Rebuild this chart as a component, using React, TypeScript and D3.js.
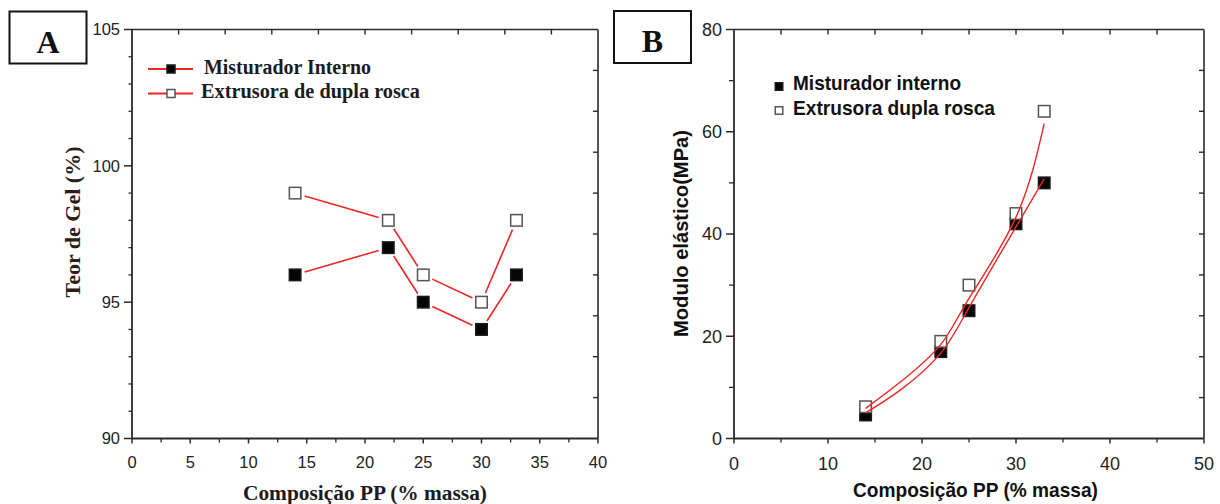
import React from "react";
import * as d3 from "d3";

// ---------- Data ----------
const compA = [14, 22, 25, 30, 33];
const gelMisturador = [96, 97, 95, 94, 96];
const gelExtrusora = [99, 98, 96, 95, 98];

const compB = [14, 22, 25, 30, 33];
const moduloMisturador = [4.6, 17, 25, 42, 50];
const moduloExtrusora = [6.2, 19, 30, 44, 64];

// fitted curves as drawn in the reference
const fitX = [14, 18, 22, 25, 30, 33];
const fitMisturador = [5.0, 9.9, 16.7, 25.6, 41.4, 50.8];
const fitExtrusora = [5.9, 11.5, 18.4, 27.4, 43.3, 61.6];

// tick labels
const xTicksA = [0, 5, 10, 15, 20, 25, 30, 35, 40];
const yTicksA = [90, 95, 100, 105];
const xTicksB = [0, 10, 20, 30, 40, 50];
const yTicksB = [0, 20, 40, 60, 80];

const legendA = ["Misturador Interno", "Extrusora de dupla rosca"];
const legendB = ["Misturador interno", "Extrusora dupla rosca"];
const titleXA = "Composição PP (% massa)";
const titleYA = "Teor de Gel (%)";
const titleXB = "Composição PP (% massa)";
const titleYB = "Modulo elástico(MPa)";

// ---------- Scales ----------
const xA = d3.scaleLinear().domain([0, 40]).range([132, 598]);
const yA = d3.scaleLinear().domain([90, 105]).range([438.5, 29.5]);
const xB = d3.scaleLinear().domain([0, 50]).range([734, 1204]);
const yB = d3.scaleLinear().domain([0, 80]).range([438.5, 29.5]);

const SANS = "'Liberation Sans', Arial, sans-serif";
const SERIF = "'Liberation Serif', 'Times New Roman', serif";
const AXIS = "#2a2a2a";
const RED = "#f02525";

type AxesProps = {
  x: d3.ScaleLinear<number, number>;
  y: d3.ScaleLinear<number, number>;
  xMajor: number[];
  xMinor: number[];
  yMajor: number[];
  yMinor: number[];
  top: number[];
  right: number[];
  fontSize: number;
  yMajorLen: number;
  yMinorLen: number;
  labelGapY: number;
  labelBaseX: number;
};

function Axes(p: AxesProps) {
  const [x0, x1] = p.x.range();
  const [y0, y1] = p.y.range(); // y0 bottom, y1 top
  return (
    <g>
      <line x1={x0} x2={x1} y1={y0} y2={y0} stroke={AXIS} strokeWidth={1.8} />
      <line x1={x0} x2={x1} y1={y1} y2={y1} stroke={AXIS} strokeWidth={1.6} />
      <line x1={x0} x2={x0} y1={y0} y2={y1} stroke={AXIS} strokeWidth={1.8} />
      <line x1={x1} x2={x1} y1={y0} y2={y1} stroke={AXIS} strokeWidth={1.6} />
      {p.xMajor.map((v) => (
        <line key={"xM" + v} x1={p.x(v)} x2={p.x(v)} y1={y0} y2={y0 + 5} stroke={AXIS} strokeWidth={1.5} />
      ))}
      {p.xMinor.map((v) => (
        <line key={"xm" + v} x1={p.x(v)} x2={p.x(v)} y1={y0} y2={y0 + 4} stroke={AXIS} strokeWidth={1.3} />
      ))}
      {p.yMajor.map((v) => (
        <line key={"yM" + v} x1={x0 - p.yMajorLen} x2={x0} y1={p.y(v)} y2={p.y(v)} stroke={AXIS} strokeWidth={1.5} />
      ))}
      {p.yMinor.map((v) => (
        <line key={"ym" + v} x1={x0 - p.yMinorLen} x2={x0} y1={p.y(v)} y2={p.y(v)} stroke={AXIS} strokeWidth={1.3} />
      ))}
      {p.top.map((v) => (
        <line key={"t" + v} x1={p.x(v)} x2={p.x(v)} y1={y1} y2={y1 + 5} stroke={AXIS} strokeWidth={1.4} />
      ))}
      {p.right.map((v) => (
        <line key={"r" + v} x1={x1 - 5} x2={x1} y1={p.y(v)} y2={p.y(v)} stroke={AXIS} strokeWidth={1.4} />
      ))}
      {p.xMajor.map((v) => (
        <text key={"xl" + v} x={p.x(v)} y={p.labelBaseX} textAnchor="middle" fontFamily={SANS} fontSize={p.fontSize} fill="#222">
          {v}
        </text>
      ))}
      {p.yMajor.map((v) => (
        <text key={"yl" + v} x={x0 - p.labelGapY} y={p.y(v)} dy="0.36em" textAnchor="end" fontFamily={SANS} fontSize={p.fontSize} fill="#222">
          {v}
        </text>
      ))}
    </g>
  );
}

function gappedSegments(xs: number[], ys: number[], sx: any, sy: any, gap: number) {
  const segs: { x1: number; y1: number; x2: number; y2: number }[] = [];
  for (let i = 0; i < xs.length - 1; i++) {
    const ax = sx(xs[i]), ay = sy(ys[i]), bx = sx(xs[i + 1]), by = sy(ys[i + 1]);
    const dx = bx - ax, dy = by - ay;
    const len = Math.hypot(dx, dy);
    const ux = dx / len, uy = dy / len;
    segs.push({ x1: ax + ux * gap, y1: ay + uy * gap, x2: bx - ux * gap, y2: by - uy * gap });
  }
  return segs;
}

function Square({ cx, cy, size, filled }: { cx: number; cy: number; size: number; filled: boolean }) {
  return (
    <rect
      x={cx - size / 2}
      y={cy - size / 2}
      width={size}
      height={size}
      fill={filled ? "#050505" : "#fff"}
      stroke={filled ? "#1a1a1a" : "#555"}
      strokeWidth={1.5}
    />
  );
}

function PanelA() {
  const segM = gappedSegments(compA, gelMisturador, xA, yA, 10);
  const segE = gappedSegments(compA, gelExtrusora, xA, yA, 10);
  const ms = 11.5;
  return (
    <g>
      <rect x={9.5} y={11.5} width={77} height={52} fill="#fff" stroke="#111" strokeWidth={2} />
      <text x={48} y={52.5} textAnchor="middle" fontFamily={SERIF} fontWeight="bold" fontSize={32} fill="#111">
        A
      </text>
      <Axes
        x={xA}
        y={yA}
        xMajor={xTicksA}
        xMinor={d3.range(2.5, 40, 5)}
        yMajor={yTicksA}
        yMinor={d3.range(91, 105, 1).filter((v) => v % 5 !== 0)}
        top={d3.range(4, 40, 4)}
        right={d3.range(91.5, 104, 1.5)}
        fontSize={16.5}
        yMajorLen={8}
        yMinorLen={3.5}
        labelGapY={12}
        labelBaseX={468}
      />
      {segM.map((s, i) => (
        <line key={"sm" + i} {...s} stroke={RED} strokeWidth={1.6} />
      ))}
      {segE.map((s, i) => (
        <line key={"se" + i} {...s} stroke={RED} strokeWidth={1.6} />
      ))}
      {compA.map((c, i) => (
        <Square key={"am" + i} cx={xA(c)} cy={yA(gelMisturador[i])} size={ms} filled={true} />
      ))}
      {compA.map((c, i) => (
        <Square key={"ae" + i} cx={xA(c)} cy={yA(gelExtrusora[i])} size={ms} filled={false} />
      ))}
      <line x1={148} x2={193} y1={69} y2={69} stroke={RED} strokeWidth={1.8} />
      <Square cx={171} cy={69} size={8} filled={true} />
      <text x={204} y={74} fontFamily={SERIF} fontWeight="bold" fontSize={20} fill="#1c1a22" textLength={167} lengthAdjust="spacingAndGlyphs">
        {legendA[0]}
      </text>
      <line x1={148} x2={193} y1={93.5} y2={93.5} stroke={RED} strokeWidth={1.8} />
      <Square cx={171} cy={93.5} size={8} filled={false} />
      <text x={201} y={98} fontFamily={SERIF} fontWeight="bold" fontSize={20} fill="#1c1a22" textLength={219} lengthAdjust="spacingAndGlyphs">
        {legendA[1]}
      </text>
      <text x={365} y={500} textAnchor="middle" fontFamily={SERIF} fontWeight="bold" fontSize={20} fill="#1c1a22" textLength={244} lengthAdjust="spacingAndGlyphs">
        {titleXA}
      </text>
      <text
        transform={`translate(80,222) rotate(-90)`}
        textAnchor="middle"
        fontFamily={SERIF}
        fontWeight="bold"
        fontSize={20}
        fill="#2a2018"
        textLength={151}
        lengthAdjust="spacingAndGlyphs"
      >
        {titleYA}
      </text>
    </g>
  );
}

function PanelB() {
  const line = d3
    .line<number>()
    .x((_, i) => xB(fitX[i]))
    .y((v) => yB(v))
    .curve(d3.curveNatural);
  const ms = 11.5;
  return (
    <g>
      <rect x={614} y={11} width={77} height={52} fill="#fff" stroke="#111" strokeWidth={2} />
      <text x={652.5} y={52} textAnchor="middle" fontFamily={SERIF} fontWeight="bold" fontSize={32} fill="#111">
        B
      </text>
      <Axes
        x={xB}
        y={yB}
        xMajor={xTicksB}
        xMinor={d3.range(5, 50, 10)}
        yMajor={yTicksB}
        yMinor={d3.range(10, 80, 20)}
        top={d3.range(5, 50, 5)}
        right={d3.range(8, 80, 8)}
        fontSize={18}
        yMajorLen={8}
        yMinorLen={5}
        labelGapY={12}
        labelBaseX={469.5}
      />
      {compB.map((c, i) => (
        <Square key={"bm" + i} cx={xB(c)} cy={yB(moduloMisturador[i])} size={ms} filled={true} />
      ))}
      {compB.map((c, i) => (
        <Square key={"be" + i} cx={xB(c)} cy={yB(moduloExtrusora[i])} size={ms} filled={false} />
      ))}
      <path d={line(fitMisturador) || ""} fill="none" stroke={RED} strokeWidth={1.4} />
      <path d={line(fitExtrusora) || ""} fill="none" stroke={RED} strokeWidth={1.4} />
      <Square cx={779} cy={86.5} size={7.5} filled={true} />
      <text x={793} y={89.5} fontFamily={SANS} fontWeight="bold" fontSize={20.5} fill="#111" textLength={168} lengthAdjust="spacingAndGlyphs">
        {legendB[0]}
      </text>
      <Square cx={779} cy={110.5} size={7.5} filled={false} />
      <text x={793} y={115} fontFamily={SANS} fontWeight="bold" fontSize={20.5} fill="#111" textLength={202} lengthAdjust="spacingAndGlyphs">
        {legendB[1]}
      </text>
      <text x={975.5} y={496.5} textAnchor="middle" fontFamily={SANS} fontWeight="bold" fontSize={21} fill="#111" textLength={245} lengthAdjust="spacingAndGlyphs">
        {titleXB}
      </text>
      <text
        transform={`translate(688,233.5) rotate(-90)`}
        textAnchor="middle"
        fontFamily={SANS}
        fontWeight="bold"
        fontSize={21}
        fill="#111"
        textLength={207}
        lengthAdjust="spacingAndGlyphs"
      >
        {titleYB}
      </text>
    </g>
  );
}

export default function App() {
  return (
    <svg
      width={1220}
      height={504}
      viewBox="0 0 1220 504"
      style={{ position: "absolute", left: 0, top: 0, background: "#fff" }}
    >
      <rect width={1220} height={504} fill="#fff" />
      <PanelA />
      <PanelB />
    </svg>
  );
}
